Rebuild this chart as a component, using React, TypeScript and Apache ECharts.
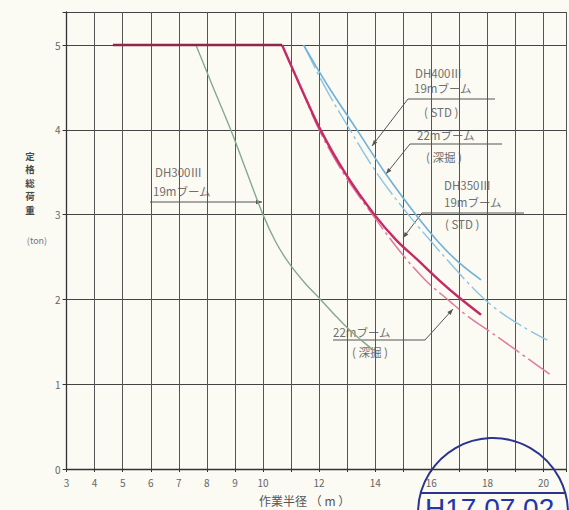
import React, { useEffect, useRef } from "react";
import * as echarts from "echarts";

// Working radius (m) vs. rated total load (t)
const xTickLabels = [3, 4, 5, 6, 7, 8, 9, 10, 12, 14, 16, 18, 20];
const yTickLabels = [0, 1, 2, 3, 4, 5];

// common 5 t rated-load plateau
const flat5t: number[][] = [[4.65, 5], [10.68, 5]];

const dh300_19m: number[][] = [
  [7.61, 5], [8.2, 4.52], [8.85, 4.0], [9.39, 3.53], [10.0, 3.0],
  [10.45, 2.68], [10.92, 2.43], [11.5, 2.19], [12.05, 2.0], [12.55, 1.82],
  [13.05, 1.65], [13.5, 1.52], [13.94, 1.4],
];
const dh350_19m: number[][] = [
  [10.68, 5], [11.35, 4.5], [12.05, 4.0], [12.93, 3.49], [13.97, 3.0],
  [14.75, 2.7], [15.53, 2.46], [16.3, 2.22], [17.0, 2.02], [17.77, 1.82],
];
const dh350_22m: number[][] = [
  [10.68, 5], [11.35, 4.5], [12.0, 4.0], [12.9, 3.47], [13.9, 3.0], [14.85, 2.58],
  [15.78, 2.23], [16.65, 1.98], [17.3, 1.8], [18.0, 1.64], [18.65, 1.49],
  [19.45, 1.3], [20.25, 1.11],
];
const dh400_19m: number[][] = [
  [11.45, 5], [12.35, 4.5], [13.35, 4.0], [14.4, 3.47], [15.45, 3.0],
  [16.3, 2.66], [17.0, 2.43], [17.77, 2.23],
];
const dh400_22m: number[][] = [
  [11.45, 5], [12.25, 4.48], [13.1, 4.0], [14.1, 3.47], [15.18, 3.0], [16.0, 2.68],
  [16.8, 2.38], [17.5, 2.13], [18.26, 1.9], [19.2, 1.69], [20.14, 1.52],
];

const JP = '"Noto Sans CJK JP", "Noto Sans", sans-serif';
const NOTE = "#707070";

function leader(pts: number[][], color = "#555") {
  const [x1, y1] = pts[pts.length - 2];
  const [x2, y2] = pts[pts.length - 1];
  const ang = Math.atan2(y2 - y1, x2 - x1);
  const L = 6, W = 2.2;
  const bx = x2 - L * Math.cos(ang), by = y2 - L * Math.sin(ang);
  const px = -Math.sin(ang) * W, py = Math.cos(ang) * W;
  return [
    { type: "polyline", shape: { points: pts }, style: { stroke: color, lineWidth: 1, fill: null } },
    {
      type: "polygon",
      shape: { points: [[x2, y2], [bx + px, by + py], [bx - px, by - py]] },
      style: { fill: color },
    },
  ];
}

function note(text: string, x: number, y: number, size = 11.5) {
  return {
    type: "text",
    x,
    y,
    style: { text, font: `${size}px ${JP}`, fill: NOTE, align: "left", verticalAlign: "middle" },
  };
}

export default function App() {
  const ref = useRef<HTMLDivElement>(null);
  useEffect(() => {
    if (!ref.current) return;
    const chart = echarts.init(ref.current, undefined, { renderer: "svg" });
    const dashDot = [26, 4, 3, 4];
    const curve = { type: "line", showSymbol: false, smooth: 0.35 };
    chart.setOption({
      animation: false,
      backgroundColor: "#fbfaf3",
      grid: { left: 66.6, top: 12, width: 502, height: 457, show: false },
      xAxis: {
        type: "value",
        min: 3,
        max: 20.8,
        interval: 1,
        axisLine: { show: true, lineStyle: { color: "#333", width: 1.3 } },
        axisTick: { show: true, length: 3, lineStyle: { color: "#333" } },
        axisLabel: {
          formatter: (v: number) => (xTickLabels.includes(v) ? String(v) : ""),
          color: "#666",
          fontSize: 10,
          fontFamily: JP,
          margin: 8,
        },
        splitLine: { show: true, lineStyle: { color: "#555", width: 1 } },
      },
      yAxis: {
        type: "value",
        min: 0,
        max: 5.39,
        interval: 1,
        axisLine: { show: true, lineStyle: { color: "#333", width: 1.3 } },
        axisTick: { show: true, length: 4, lineStyle: { color: "#333" } },
        axisLabel: {
          formatter: (v: number) => (yTickLabels.includes(v) ? String(v) : ""),
          color: "#666",
          fontSize: 10,
          fontFamily: JP,
          margin: 6,
        },
        splitLine: { show: true, lineStyle: { color: "#444", width: 1.2 } },
      },
      series: [
        {
          ...curve, name: "DH300Ⅲ 19m", data: dh300_19m,
          lineStyle: { color: "#86a98c", width: 1.4 }, z: 3,
        },
        {
          ...curve, name: "DH400Ⅲ 22m", data: dh400_22m,
          lineStyle: { color: "#8cc3e3", width: 1.4, type: dashDot }, z: 3,
        },
        {
          ...curve, name: "DH400Ⅲ 19m", data: dh400_19m,
          lineStyle: { color: "#6fb1da", width: 1.6 }, z: 4,
        },
        {
          ...curve, name: "DH350Ⅲ 22m", data: dh350_22m,
          lineStyle: { color: "#e07aa0", width: 1.5, type: dashDot }, z: 4,
        },
        {
          ...curve, name: "DH350Ⅲ 19m", data: dh350_19m,
          lineStyle: { color: "#c42a64", width: 2.4 }, z: 5,
        },
        {
          type: "line", name: "5t", data: flat5t, showSymbol: false,
          lineStyle: { color: "#8e2648", width: 2.4 }, z: 5,
        },
      ],
      graphic: [
        // axis titles
        {
          type: "text", x: 30, y: 149,
          style: {
            text: "定\n格\n総\n荷\n重", font: `bold 9.5px ${JP}`, fill: "#4a4a4a",
            align: "center", verticalAlign: "top", lineHeight: 13.5,
          },
        },
        {
          type: "text", x: 37, y: 240,
          style: { text: "(ton)", font: `9px ${JP}`, fill: "#777", align: "center", verticalAlign: "middle" },
        },
        {
          type: "text", x: 259, y: 500,
          style: { text: "作業半径 （ m ）", font: `12px ${JP}`, fill: "#555", align: "left", verticalAlign: "middle" },
        },
        // annotations
        note("DH300Ⅲ", 155, 172),
        note("19mブーム", 153, 191),
        ...leader([[150, 202], [262, 202]]),
        note("DH400Ⅲ", 415, 73),
        note("19mブーム", 414, 88),
        note("( STD )", 424, 112),
        ...leader([[495, 99], [408, 99], [372, 146]]),
        note("22mブーム", 417, 135),
        note("( 深掘 )", 426, 157),
        ...leader([[502, 144], [410, 144], [386, 174]]),
        note("DH350Ⅲ", 444, 185),
        note("19mブーム", 444, 202),
        note("( STD )", 445, 224),
        ...leader([[524, 213], [422, 213], [403, 238]]),
        note("22mブーム", 333, 332),
        note("( 深掘 )", 352, 352),
        ...leader([[333, 340], [425, 340], [453, 309]]),
        // stamp
        {
          type: "circle", shape: { cx: 493, cy: 513, r: 75 },
          style: { stroke: "#2b3590", lineWidth: 2, fill: "none" }, z: 20,
        },
        {
          type: "line", shape: { x1: 421, y1: 493, x2: 565, y2: 493 },
          style: { stroke: "#2b3590", lineWidth: 2 }, z: 20,
        },
        {
          type: "text", x: 425, y: 494, z: 20,
          style: {
            text: "H17.07.02", font: `28px "Liberation Sans", Arial, sans-serif`,
            fill: "#2236a8", align: "left", verticalAlign: "top",
          },
        },
      ],
    });
    return () => chart.dispose();
  }, []);
  return (
    <div
      ref={ref}
      style={{ position: "fixed", left: 0, top: 0, width: 569, height: 510 }}
    />
  );
}
